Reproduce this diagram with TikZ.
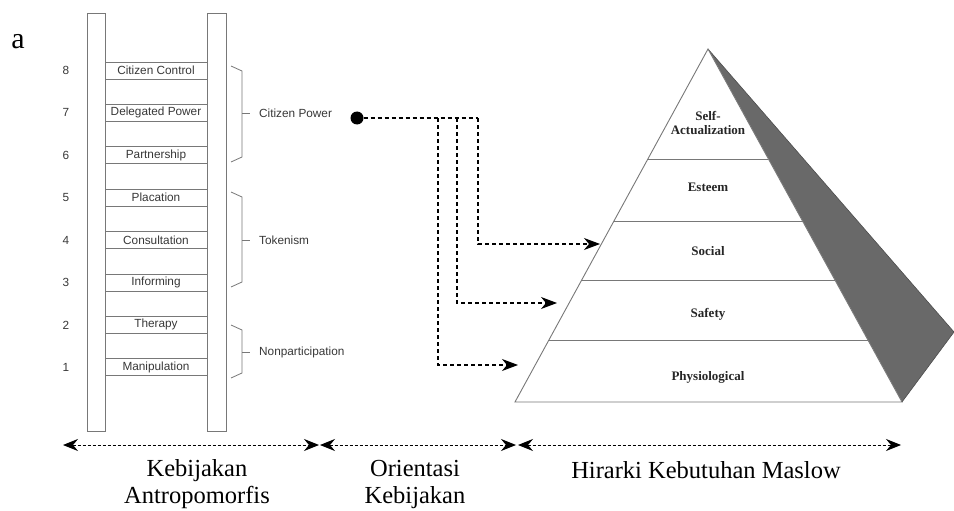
\documentclass[tikz,border=0pt]{standalone}
\usepackage{fontspec}
\setmainfont{Liberation Serif}
\newfontfamily\ladderfont{Liberation Sans}
\usetikzlibrary{arrows.meta,calc}
\definecolor{linegray}{RGB}{120,120,120}
\definecolor{textgray}{RGB}{55,55,55}
\definecolor{shadowgray}{RGB}{105,105,105}
\begin{document}
\begin{tikzpicture}[x=1pt,y=-1pt,
  rail/.style={draw=linegray, line width=0.8pt},
  rung/.style={draw=linegray, line width=0.8pt, minimum width=102pt, minimum height=17pt, inner sep=0pt,
    font=\ladderfont\fontsize{11.8}{13}\selectfont, text=textgray},
  numlab/.style={font=\ladderfont\fontsize{11.8}{13}\selectfont, text=textgray, inner sep=0pt},
  grouplab/.style={font=\ladderfont\fontsize{11.8}{13}\selectfont, text=textgray, inner sep=0pt, anchor=west},
  bracket/.style={draw=linegray, line width=0.8pt},
  conn/.style={draw=black, line width=1.1pt, dash pattern=on 4pt off 3pt},
  connarrow/.style={conn, -{Stealth[length=16pt,width=12pt,inset=5pt]}},
  spanarrow/.style={draw=black, line width=1pt, dash pattern=on 3pt off 2pt,
    {Stealth[length=15pt,width=12pt,inset=5pt]}-{Stealth[length=15pt,width=12pt,inset=5pt]}},
  pyr/.style={draw=linegray, line width=0.9pt},
  lvl/.style={font=\bfseries\fontsize{13}{13.5}\selectfont, text=black!85, align=center, inner sep=0pt},
  caption/.style={font=\fontsize{24.5}{27}\selectfont, align=center, inner sep=0pt}
]
\useasboundingbox (0,0) rectangle (954,511);

% label a
\node[font=\fontsize{30}{30}\selectfont, inner sep=0pt] (lbla) at (18,42) {a};

% ladder rails
\draw[rail] (87,13) rectangle (105,431);
\draw[rail] (207,13) rectangle (226,431);

% rungs
\node[rung] (r8) at (156,70.5)  {Citizen Control};
\node[rung] (r7) at (156,112.9) {Delegated Power};
\node[rung] (r6) at (156,155.3) {Partnership};
\node[rung] (r5) at (156,197.7) {Placation};
\node[rung] (r4) at (156,240.1) {Consultation};
\node[rung] (r3) at (156,282.5) {Informing};
\node[rung] (r2) at (156,324.9) {Therapy};
\node[rung] (r1) at (156,367.3) {Manipulation};

% numbers
\node[numlab] (n8) at (66,70.5)  {8};
\node[numlab] (n7) at (66,112.9) {7};
\node[numlab] (n6) at (66,155.3) {6};
\node[numlab] (n5) at (66,197.7) {5};
\node[numlab] (n4) at (66,240.1) {4};
\node[numlab] (n3) at (66,282.5) {3};
\node[numlab] (n2) at (66,324.9) {2};
\node[numlab] (n1) at (66,367.3) {1};

% brackets
\draw[bracket] (231,66) -- (242,71) -- (242,157) -- (231,162);
\draw[bracket] (242,113) -- (250,113);
\node[grouplab] (cp) at (259,113) {Citizen Power};

\draw[bracket] (231,192) -- (242,197) -- (242,282) -- (231,287);
\draw[bracket] (242,240) -- (250,240);
\node[grouplab] (tk) at (259,240) {Tokenism};

\draw[bracket] (231,325) -- (242,330) -- (242,373) -- (231,378);
\draw[bracket] (242,352) -- (250,352);
\node[grouplab] (np) at (259,352) {Nonparticipation};

% pyramid
\coordinate (apex) at (708,49);
\coordinate (bl) at (515,402);
\coordinate (br) at (902,402);
\coordinate (sh) at (954,332);
\fill[fill=shadowgray] (apex) -- (sh) -- (br) -- cycle;
\draw[draw=black!70, line width=0.6pt] (apex) -- (sh) -- (br);
\draw[pyr, fill=white] (apex) -- (bl) -- (br) -- cycle;
\foreach \t in {0.3116,0.4873,0.6570,0.8270}{
  \draw[pyr] ($(apex)!\t!(bl)$) -- ($(apex)!\t!(br)$);
}
\node[lvl] (self) at (708,123) {Self-\\Actualization};
\node[lvl] (esteem) at (708,187) {Esteem};
\node[lvl] (social) at (708,251) {Social};
\node[lvl] (safety) at (708,314) {Safety};
\node[lvl] (physio) at (708,377) {Physiological};

% policy orientation connectors
\node[circle, fill=black, inner sep=0pt, minimum size=13pt] (dot) at (357,118) {};
\coordinate (b1) at (478,118);
\coordinate (b2) at (457,118);
\coordinate (b3) at (438,118);
\coordinate (t1) at (600,244);
\coordinate (t2) at (557,303);
\coordinate (t3) at (518,365);
\draw[conn] (dot) -- (b1);
\draw[connarrow] (b1) |- (t1);
\draw[connarrow] (b2) |- (t2);
\draw[connarrow] (b3) |- (t3);

% bottom spans
\coordinate (s0) at (63,445);
\coordinate (s1) at (319,445);
\coordinate (s2) at (320,445);
\coordinate (s3) at (516,445);
\coordinate (s4) at (518,445);
\coordinate (s5) at (901,445);
\draw[spanarrow] (s0) -- (s1);
\draw[spanarrow] (s2) -- (s3);
\draw[spanarrow] (s4) -- (s5);

\node[caption] (c1) at (197,484) {Kebijakan\\Antropomorfis};
\node[caption] (c2) at (415,484) {Orientasi\\Kebijakan};
\node[caption] (c3) at (706,470) {Hirarki Kebutuhan Maslow};
\end{tikzpicture}
\end{document}
